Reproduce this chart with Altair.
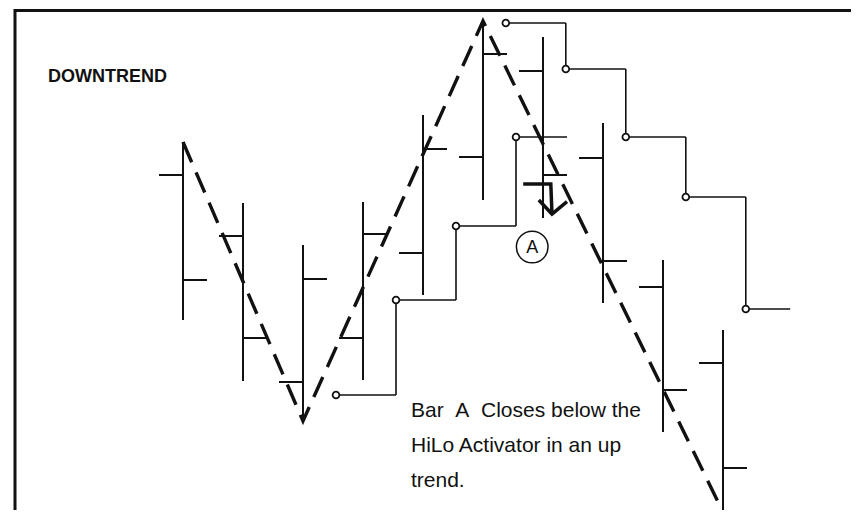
import altair as alt
import pandas as pd

# ---- price bars (bar index, high, low, open, close) ----
bar = [1, 2, 3, 4, 5, 6, 7, 8, 9, 10]
high = [94.5, 79.25, 68.75, 79.5, 101.25, 124.75, 120.75, 99.25, 65.0, 47.5]
low = [50.0, 34.75, 24.75, 35.0, 56.25, 80.0, 75.5, 54.25, 22.0, 2.0]
open_ = [86.25, 71.0, 34.5, 45.5, 66.75, 90.75, 112.25, 90.5, 58.25, 39.25]
close = [60.0, 45.5, 60.25, 71.5, 92.75, 116.5, 86.25, 64.75, 32.5, 13.0]

# ---- HiLo Activator levels ----
up_bar = [4, 5, 6, 7]
up_level = [31.25, 55.0, 73.5, 95.75]
down_bar = [7, 8, 9, 10, 11]
down_level = [124.25, 112.75, 95.75, 80.75, 52.75]

# ---- swing points joined by the dashed trend line ----
swing_bar = [1, 3, 6, 10]
swing_kind = ["high", "low", "high", "low"]

# ---- annotations ----
NB = "\u00a0"
label_trend = "DOWNTREND"
note_lines = ["Bar" + NB * 2 + "A" + NB * 2 + "Closes below the", "HiLo Activator in an up", "trend."]
note_price = [25.75, 17.0, 8.25]
circle_label = "A"
circle_pos = (6.82, 68.25)
arrow_group = [0, 0, 0, 1, 1, 1]
arrow_order = [0, 1, 2, 0, 1, 2]
arrow_x = [6.67, 7.13, 7.15, 6.93, 7.15, 7.4]
arrow_y = [84.0, 84.0, 76.5, 80.0, 76.5, 79.6]

W, H = 843, 502
xs = alt.Scale(domain=[-115 / 60, 728 / 60], nice=False, zero=False)
ys = alt.Scale(domain=[2.5, 128.0], nice=False, zero=False)
INK = "#111111"
FONT = "Liberation Sans"

bars = pd.DataFrame({"bar": bar, "high": high, "low": low, "open": open_, "close": close})
bars["ol"] = bars["bar"] - 0.4
bars["cr"] = bars["bar"] + 0.4


def steps(bs, lv, off, last_end):
    starts = [b - off for b in bs]
    ends = starts[1:] + [bs[-1] + last_end]
    seg = pd.DataFrame({"x": starts, "x2": ends, "y": lv})
    vert = pd.DataFrame({"x": starts[1:], "y": lv[:-1], "y2": lv[1:]})
    return seg, vert


up_seg, up_vert = steps(up_bar, up_level, 0.45, 0.4)
dn_seg, dn_vert = steps(down_bar, down_level, 0.62, 0.12)
hilo_seg = pd.concat([up_seg, dn_seg])
hilo_vert = pd.concat([up_vert, dn_vert])

sw = []
for i, (b, k) in enumerate(zip(swing_bar, swing_kind)):
    row = bars[bars["bar"] == b].iloc[0]
    sw.append({"bar": b, "price": row[k], "o": i})
swing = pd.DataFrame(sw)

X = lambda f: alt.X(f, type="quantitative", scale=xs, axis=None)
Y = lambda f: alt.Y(f, type="quantitative", scale=ys, axis=None)

frame_left = alt.Chart(pd.DataFrame({"a": [0]})).mark_rule(color=INK, strokeWidth=3).encode(
    x=alt.value(7), y=alt.value(1), y2=alt.value(H))
frame_top = alt.Chart(pd.DataFrame({"a": [0]})).mark_rule(color=INK, strokeWidth=3).encode(
    x=alt.value(6), x2=alt.value(W), y=alt.value(2.5))

vert = alt.Chart(bars).mark_rule(color=INK, strokeWidth=2).encode(x=X("bar"), y=Y("low"), y2=alt.Y2("high"))
otick = alt.Chart(bars).mark_rule(color=INK, strokeWidth=2).encode(x=X("ol"), x2=alt.X2("bar"), y=Y("open"))
ctick = alt.Chart(bars).mark_rule(color=INK, strokeWidth=2).encode(x=X("bar"), x2=alt.X2("cr"), y=Y("close"))

hseg = alt.Chart(hilo_seg).mark_rule(color=INK, strokeWidth=1.6).encode(x=X("x"), x2=alt.X2("x2"), y=Y("y"))
hvert = alt.Chart(hilo_vert).mark_rule(color=INK, strokeWidth=1.6).encode(x=X("x"), y=Y("y"), y2=alt.Y2("y2"))
hdot = alt.Chart(hilo_seg).mark_point(shape="circle", size=45, filled=True, fill="white",
                                      stroke=INK, strokeWidth=1.8, opacity=1).encode(x=X("x"), y=Y("y"))

dashed = alt.Chart(swing).mark_line(color=INK, strokeWidth=3.4, strokeDash=[22, 11]).encode(
    x=X("bar"), y=Y("price"), order="o:Q")

arrow = alt.Chart(pd.DataFrame({"x": arrow_x, "y": arrow_y, "g": arrow_group, "o": arrow_order})).mark_line(
    color=INK, strokeWidth=3.5).encode(x=X("x"), y=Y("y"), detail="g:N", order="o:Q")

cdf = pd.DataFrame({"x": [circle_pos[0]], "y": [circle_pos[1]], "t": [circle_label]})
circ = alt.Chart(cdf).mark_point(shape="circle", size=1000, filled=False, stroke=INK, strokeWidth=1.5,
                                 opacity=1).encode(x=X("x"), y=Y("y"))
ctext = alt.Chart(cdf).mark_text(font=FONT, fontSize=18, color=INK, baseline="middle", dy=1).encode(
    x=X("x"), y=Y("y"), text="t:N")

title_df = pd.DataFrame({"x": [-1.25], "y": [109.5], "t": [label_trend]})
ttext = alt.Chart(title_df).mark_text(font=FONT, fontSize=18, fontWeight="bold", color=INK,
                                      align="left", baseline="alphabetic").encode(x=X("x"), y=Y("y"), text="t:N")

note_df = pd.DataFrame({"x": [4.8] * 3, "y": note_price, "t": note_lines})
ntext = alt.Chart(note_df).mark_text(font=FONT, fontSize=21, color=INK, align="left",
                                     baseline="alphabetic").encode(x=X("x"), y=Y("y"), text="t:N")

chart = alt.layer(frame_left, frame_top, dashed, vert, otick, ctick, hseg, hvert, hdot, arrow, circ, ctext,
                  ttext, ntext).properties(
    width=W, height=H, padding=0,
    autosize=alt.AutoSizeParams(type="none"),
    background="white",
).configure_view(stroke=None)

chart.save("out.html", embed_options={"renderer": "svg", "actions": False})
